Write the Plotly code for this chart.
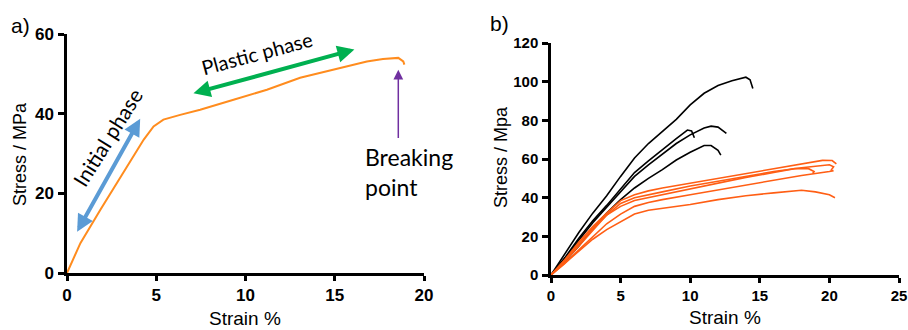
import plotly.graph_objects as go

# ---------- Panel a data ----------
a_strain = [0, 0.75, 1.87, 2.8, 3.73, 4.3, 4.85, 5.4, 6.34, 7.46, 9.33, 11.2, 13.06, 14.9, 16.8, 17.7, 18.56, 18.84, 18.9]
a_stress = [0, 7.5, 15.9, 22.6, 29.3, 33.5, 36.8, 38.5, 39.7, 41.0, 43.5, 46.0, 49.0, 51.0, 53.1, 53.7, 54.0, 53.1, 52.3]

# ---------- Panel b data ----------
k1_x = [0, 1, 2, 3, 4, 5, 6, 7, 8, 9, 10, 11, 12, 13, 14, 14.3, 14.5]
k1_y = [0, 11, 22, 32, 41, 51, 60.5, 68, 74, 80.5, 88, 94, 98, 100.5, 102.3, 101, 96.5]
k2_x = [0, 1, 2, 3, 4, 5, 6, 7, 8, 9, 9.8, 10.1, 10.3]
k2_y = [0, 9, 19, 28, 36, 44.5, 53, 59, 65, 70.5, 75, 74.5, 71]
k3_x = [0, 1, 2, 3, 4, 5, 6, 7, 8, 9, 10, 11, 11.5, 12, 12.6]
k3_y = [0, 8, 18, 27, 35, 43, 51, 57, 62.5, 68, 72.5, 76, 77, 76.5, 73.3]
k4_x = [0, 1, 2, 3, 4, 5, 6, 7, 8, 9, 10, 11, 11.5, 12, 12.2]
k4_y = [0, 7, 15, 24, 32, 39, 45, 50, 54.5, 59.5, 63.5, 67, 67, 64.5, 62]

o1_x = [0, 1, 2, 3, 4, 5, 6, 7, 8, 10, 12, 14, 16, 18, 19.5, 20.2, 20.5]
o1_y = [0, 8, 17, 25, 32, 38.5, 41.5, 43.5, 45, 47.5, 50, 52.5, 55, 57.5, 59.3, 59.2, 57.5]
o2_x = [0, 1, 2, 3, 4, 5, 6, 8, 10, 12, 14, 16, 18, 20, 20.3, 20.1]
o2_y = [0, 7, 15, 23, 31, 37, 40, 43, 46, 48.5, 51, 53.5, 55.5, 57, 56, 54]
o3_x = [0, 1, 2, 3, 4, 5, 6, 8, 10, 12, 14, 16, 17.5, 18.5, 18.9, 18.8]
o3_y = [0, 7.5, 16, 24, 31, 35.5, 38.5, 41.5, 44.5, 47.5, 50.5, 53, 55, 55, 53.5, 52.5]
o4_x = [0, 1, 2, 3, 4, 5, 6, 7, 8, 10, 12, 14, 16, 18, 20, 20.3]
o4_y = [0, 6, 13, 20, 26.5, 31.5, 35.5, 37.5, 39, 41.5, 44, 46.5, 49, 51.5, 53.5, 54]
o5_x = [0, 1, 2, 3, 4, 5, 6, 7, 8, 10, 12, 14, 16, 18, 19, 20, 20.4]
o5_y = [0, 6, 12.5, 18.5, 23.5, 27.5, 31.5, 33.5, 34.5, 36.5, 39, 41, 42.5, 43.8, 43, 41.5, 40]

a_xticks = [0, 5, 10, 15, 20]
a_yticks = [0, 20, 40, 60]
b_xticks = [0, 5, 10, 15, 20, 25]
b_yticks = [0, 20, 40, 60, 80, 100, 120]

ORANGE_A = "#FF8C1E"
ORANGE_B = "#FF5E14"

fig = go.Figure()
fig.add_trace(go.Scatter(x=a_strain, y=a_stress, mode="lines",
                         line=dict(color=ORANGE_A, width=2), xaxis="x", yaxis="y"))
for xs, ys in [(k1_x, k1_y), (k2_x, k2_y), (k3_x, k3_y), (k4_x, k4_y)]:
    fig.add_trace(go.Scatter(x=xs, y=ys, mode="lines",
                             line=dict(color="black", width=1.6), xaxis="x2", yaxis="y2"))
for xs, ys in [(o1_x, o1_y), (o2_x, o2_y), (o3_x, o3_y), (o4_x, o4_y), (o5_x, o5_y)]:
    fig.add_trace(go.Scatter(x=xs, y=ys, mode="lines",
                             line=dict(color=ORANGE_B, width=1.6), xaxis="x2", yaxis="y2"))


def bold(vals):
    return ["<b>%d</b>" % v for v in vals]


def ax(size, vals, **kw):
    d = dict(showline=True, linewidth=2.5, linecolor="black", ticks="outside",
             ticklen=6, tickwidth=2.5, tickcolor="black", showgrid=False,
             zeroline=False, fixedrange=True, tickvals=vals, ticktext=bold(vals),
             automargin=False,
             tickfont=dict(family="Liberation Sans", size=size, color="black"))
    d.update(kw)
    return d


fig.update_layout(
    width=908, height=330, margin=dict(l=0, r=0, t=0, b=0, pad=0),
    paper_bgcolor="white", plot_bgcolor="white", showlegend=False,
    xaxis=ax(17, a_xticks, domain=[67/908, 424/908], range=[0, 20], anchor="y", ticklabelstandoff=0, ticklen=5),
    yaxis=ax(17, a_yticks, domain=[(330-273)/330, (330-34)/330], range=[0, 60], anchor="x", ticklabelstandoff=1),
    xaxis2=ax(15, b_xticks, domain=[551/908, 899/908], range=[0, 25], anchor="y2", ticklabelstandoff=0, ticklen=5),
    yaxis2=ax(15, b_yticks, domain=[(330-275)/330, (330-43)/330], range=[0, 120], anchor="x2", ticklabelstandoff=1),
)

titlefont = dict(family="Liberation Sans", size=18, color="black")
txtfont = "Lato"


def paper_text(text, px, py, font, angle=0):
    return dict(text=text, x=px/908, y=1-py/330, xref="paper", yref="paper", showarrow=False,
                xanchor="center", yanchor="middle", textangle=angle, font=font)


ann = [
    paper_text("a)", 20, 25, dict(family="Liberation Sans", size=21, color="black")),
    paper_text("b)", 499, 23, dict(family="Liberation Sans", size=21, color="black")),
    paper_text("Stress / MPa", 20, 154, titlefont, -90),
    paper_text("Strain %", 245, 318, dict(family="Liberation Sans", size=19, color="black")),
    paper_text("Stress / Mpa", 501, 157, titlefont, -90),
    paper_text("Strain %", 725, 317, dict(family="Liberation Sans", size=19, color="black")),
    # arrows panel a
    dict(x=4.1, y=38.7, ax=0.52, ay=10.0, xref="x", yref="y", axref="x", ayref="y", text="",
         showarrow=True, arrowhead=2, arrowside="end+start", arrowwidth=4, arrowsize=0.85,
         arrowcolor="#5B9BD5", standoff=0, startstandoff=0),
    dict(x=16.1, y=56.1, ax=7.0, ay=45.0, xref="x", yref="y", axref="x", ayref="y", text="",
         showarrow=True, arrowhead=2, arrowside="end+start", arrowwidth=4, arrowsize=0.85,
         arrowcolor="#00B050", standoff=0, startstandoff=0),
    dict(x=18.56, y=51.0, ax=18.56, ay=33.5, xref="x", yref="y", axref="x", ayref="y", text="",
         showarrow=True, arrowhead=2, arrowwidth=1.5, arrowsize=1.3,
         arrowcolor="#7030A0", standoff=0),
    # texts panel a
    dict(text="Initial phase", x=2.24, y=34.1, xref="x", yref="y", showarrow=False,
         xanchor="center", yanchor="middle",
         textangle=-58, font=dict(family=txtfont, size=21, color="black")),
    dict(text="Plastic phase", x=10.64, y=55.2, xref="x", yref="y", showarrow=False,
         xanchor="center", yanchor="middle",
         textangle=-15, font=dict(family=txtfont, size=20, color="black")),
    dict(text="Breaking<br>point", x=16.58, y=25.4, xref="x", yref="y", showarrow=False,
         xanchor="left", yanchor="middle", align="left",
         font=dict(family=txtfont, size=23, color="black")),
]
fig.update_layout(annotations=ann)

fig.write_html("out.html")
